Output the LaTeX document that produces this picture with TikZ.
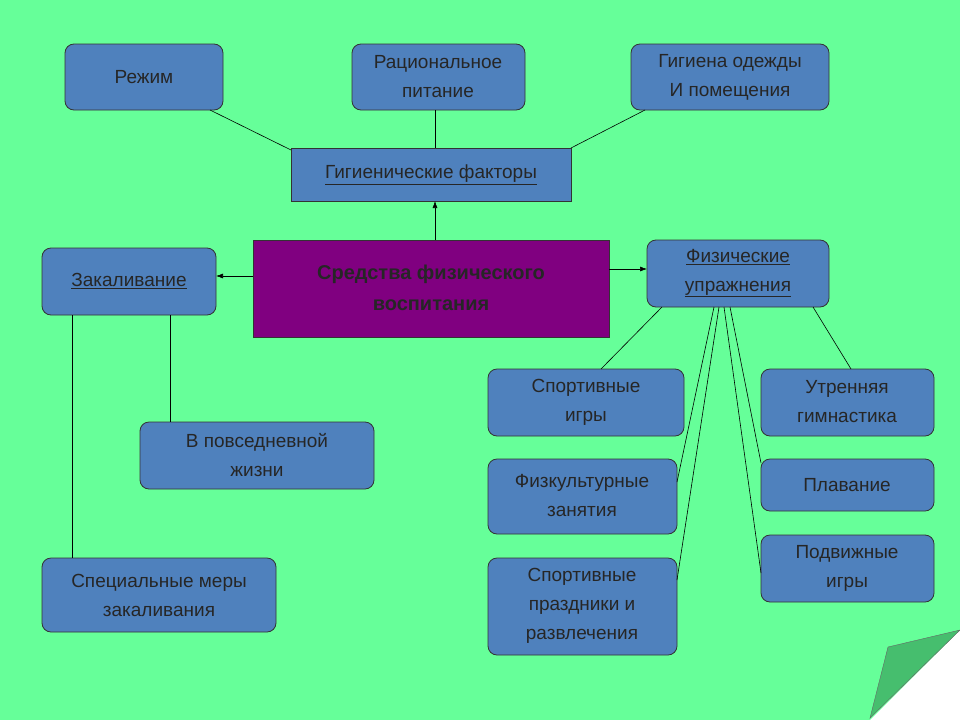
\documentclass[tikz,border=0pt]{standalone}
\usepackage{fontspec}
\setmainfont{Liberation Sans}
\usetikzlibrary{arrows.meta}
\definecolor{bg}{RGB}{102,255,153}
\definecolor{boxc}{RGB}{79,129,189}
\definecolor{purp}{RGB}{128,0,128}
\definecolor{fold}{RGB}{70,190,110}
\tikzset{
 rbox/.style={draw=black!80,fill=boxc,rounded corners=9pt,line width=0.8pt},
 sbox/.style={draw=black!80,fill=boxc,line width=0.8pt},
 lbl/.style={align=center,font=\fontsize{19}{29}\selectfont,text=black!85},
 con/.style={draw=black,line width=0.6pt},
 arr/.style={con,-{Latex[length=7pt,width=5pt]}}
}
\begin{document}
\begin{tikzpicture}[x=1pt,y=-1pt]
\fill[bg] (0,0) rectangle (960,720);
\useasboundingbox (0,0) rectangle (960,720);
\fill[white] (960,630) -- (870,720) -- (960,720) -- cycle;
\fill[fold,draw=black!60,line width=0.4pt] (960,630) -- (888,647) -- (870,718) -- cycle;
% boxes
\draw[rbox] (65,44) rectangle (223,110);
\node[lbl] (rej) at (144,77) {Режим};
\draw[rbox] (352,44) rectangle (525,110);
\node[lbl] (rac) at (438,77) {Рациональное\\питание};
\draw[rbox] (631,44) rectangle (829,110);
\node[lbl] (gig) at (730,77) {Гигиена одежды\\И помещения};
\draw[sbox] (291,148) rectangle (571,201);
\node[lbl] (gf) at (431,175) {\underline{Гигиенические факторы}};
\draw[draw=black!80,fill=purp,line width=0.8pt] (253,240) rectangle (609,337);
\node[lbl,font=\bfseries\fontsize{20}{31}\selectfont] (c) at (431,288) {Средства физического\\воспитания};
\draw[rbox] (42,248) rectangle (216,315);
\node[lbl] (zak) at (129,281) {\underline{Закаливание}};
\draw[rbox] (647,240) rectangle (829,307);
\node[lbl] (fu) at (738,273) {\underline{Физические}\\\underline{упражнения}};
\draw[rbox] (488,369) rectangle (684,436);
\node[lbl] (si) at (586,402) {Спортивные\\игры};
\draw[rbox] (488,459) rectangle (677,534);
\node[lbl] (fz) at (582,496) {Физкультурные\\занятия};
\draw[rbox] (488,558) rectangle (677,655);
\node[lbl] (sp) at (582,606) {Спортивные\\праздники и\\развлечения};
\draw[rbox] (761,369) rectangle (934,436);
\node[lbl] (ug) at (847,402) {Утренняя\\гимнастика};
\draw[rbox] (761,459) rectangle (934,511);
\node[lbl] (pl) at (847,485) {Плавание};
\draw[rbox] (761,535) rectangle (934,602);
\node[lbl] (pi) at (847,568) {Подвижные\\игры};
\draw[rbox] (140,422) rectangle (374,489);
\node[lbl] (vp) at (257,455) {В повседневной\\жизни};
\draw[rbox] (42,558) rectangle (276,632);
\node[lbl] (sm) at (159,595) {Специальные меры\\закаливания};
% connectors
\coordinate (a1) at (210,110); \coordinate (a2) at (291,150);
\draw[con] (a1) -- (a2);
\coordinate (b1) at (435,110); \coordinate (b2) at (435,148);
\draw[con] (b1) -- (b2);
\coordinate (g1) at (645,110); \coordinate (g2) at (571,148);
\draw[con] (g1) -- (g2);
\coordinate (c1) at (435,240); \coordinate (c2) at (435,201);
\draw[arr] (c1) -- (c2);
\coordinate (c3) at (253,276); \coordinate (c4) at (216,276);
\draw[arr] (c3) -- (c4);
\coordinate (c5) at (609,269); \coordinate (c6) at (647,269);
\draw[arr] (c5) -- (c6);
\coordinate (z1) at (72,315); \coordinate (z2) at (72,558);
\draw[con] (z1) -- (z2);
\coordinate (z3) at (170,315); \coordinate (z4) at (170,422);
\draw[con] (z3) -- (z4);
\coordinate (f1) at (662,307); \coordinate (f2) at (601,369);
\draw[con] (f1) -- (f2);
\coordinate (f3) at (813,307); \coordinate (f4) at (851,369);
\draw[con] (f3) -- (f4);
\coordinate (f5) at (714,307); \coordinate (f6) at (677,482);
\draw[con] (f5) -- (f6);
\coordinate (f7) at (719,307); \coordinate (f8) at (677,580);
\draw[con] (f7) -- (f8);
\coordinate (f9) at (730,307); \coordinate (f10) at (761,463);
\draw[con] (f9) -- (f10);
\coordinate (f11) at (724,307); \coordinate (f12) at (761,573);
\draw[con] (f11) -- (f12);
\end{tikzpicture}
\end{document}
